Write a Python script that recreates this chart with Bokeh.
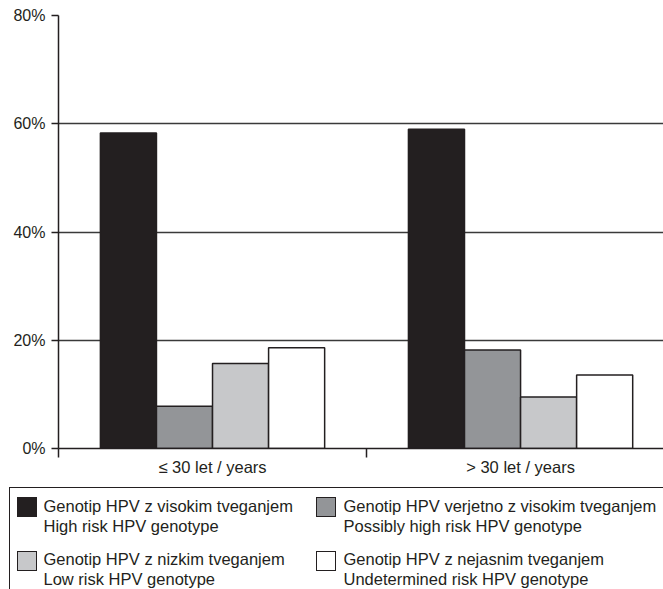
from bokeh.plotting import figure
from bokeh.models import (ColumnDataSource, Range1d, FixedTicker, PrintfTickFormatter, Div)
from bokeh.layouts import column
from bokeh.embed import file_html
from bokeh.resources import INLINE

# ---- data ----
groups = ["\u2264 30 let / years", "> 30 let / years"]
group_pos = [0.5, 1.5]
high_risk = [58.3, 59.0]
possibly_high = [7.8, 18.2]
low_risk = [15.7, 9.5]
undetermined = [18.6, 13.6]
y_ticks = [0, 20, 40, 60, 80]

series_values = [high_risk, possibly_high, low_risk, undetermined]
series_colors = ["#231f20", "#939598", "#c7c8ca", "#ffffff"]
labels_sl = ["Genotip HPV z visokim tveganjem", "Genotip HPV verjetno z visokim tveganjem",
             "Genotip HPV z nizkim tveganjem", "Genotip HPV z nejasnim tveganjem"]
labels_en = ["High risk HPV genotype", "Possibly high risk HPV genotype",
             "Low risk HPV genotype", "Undetermined risk HPV genotype"]

FONT = "Liberation Sans"
INK = "#231f20"

# ---- main chart ----
p = figure(width=663, height=478, output_backend="svg", toolbar_location=None,
           x_range=Range1d(0, 1.964), y_range=Range1d(0, 80),
           min_border_left=58, min_border_right=0, min_border_top=15, min_border_bottom=29)
p.outline_line_color = None
p.background_fill_color = "white"
p.border_fill_color = "white"

bar_w = 0.182
offsets = [-1.5 * bar_w, -0.5 * bar_w, 0.5 * bar_w, 1.5 * bar_w]
for vals, col, off in zip(series_values, series_colors, offsets):
    src = ColumnDataSource(dict(x=[g + off for g in group_pos], top=vals))
    p.vbar(x="x", top="top", bottom=0, width=bar_w, source=src,
           fill_color=col, line_color=INK, line_width=1.5)

# grid
p.xgrid.visible = False
p.ygrid.ticker = FixedTicker(ticks=y_ticks)
p.ygrid.grid_line_color = "#3a3a3a"
p.ygrid.grid_line_width = 1.5
p.ygrid.level = "underlay"

# y axis
ya = p.yaxis[0]
ya.ticker = FixedTicker(ticks=y_ticks)
ya.formatter = PrintfTickFormatter(format="%d%%")
ya.major_tick_out = 7
ya.major_tick_in = 0
ya.minor_tick_out = 0
ya.minor_tick_in = 0
ya.major_label_standoff = 6
ya.axis_line_color = INK
ya.axis_line_width = 1.5
ya.major_tick_line_color = INK
ya.major_tick_line_width = 1.5
ya.major_label_text_font = FONT
ya.major_label_text_font_size = "16px"
ya.major_label_text_color = INK

# x axis
xa = p.xaxis[0]
xa.ticker = FixedTicker(ticks=group_pos, minor_ticks=[0, 1])
xa.major_label_overrides = {group_pos[0]: groups[0], group_pos[1]: groups[1]}
xa.major_tick_out = 0
xa.major_tick_in = 0
xa.minor_tick_out = 9
xa.minor_tick_in = 0
xa.minor_tick_line_color = INK
xa.minor_tick_line_width = 1.5
xa.major_label_standoff = 0
xa.axis_line_color = INK
xa.axis_line_width = 1.5
xa.major_label_text_font = FONT
xa.major_label_text_font_size = "16.5px"
xa.major_label_text_color = INK

# ---- legend panel (HTML) ----
LW, LH = 663, 111
sq_left = [16.7, 316.0]
sq_top = [19, 73]
txt_left = [43.5, 343.5]
txt_top = [[18.2, 38.2], [71.2, 91.0]]

parts = [f'<div style="position:absolute;left:9.3px;top:9px;width:{LW - 9.3}px;height:{LH - 9}px;'
         f'border-left:1.5px solid {INK};border-top:1.5px solid {INK};box-sizing:border-box;"></div>']
for i in range(4):
    c, r = i % 2, i // 2
    parts.append(f'<div style="position:absolute;left:{sq_left[c]}px;top:{sq_top[r]}px;width:20px;height:19.5px;'
                 f'background:{series_colors[i]};border:1.5px solid {INK};box-sizing:border-box;"></div>')
    for line, txt in zip(txt_top[r], (labels_sl[i], labels_en[i])):
        parts.append(f'<span style="position:absolute;left:{txt_left[c]}px;top:{line}px;line-height:20px;'
                     f'white-space:nowrap;font-family:\'{FONT}\';font-size:16.5px;color:{INK};">{txt}</span>')

legend_html = (f'<div style="position:relative;width:{LW}px;height:{LH}px;overflow:hidden;background:white;">'
               + "".join(parts) + "</div>")
lg = Div(text=legend_html, width=LW, height=LH, margin=(0, 0, 0, 0))

layout = column(p, lg, spacing=0)
open("out.html", "w").write(file_html(layout, INLINE))
